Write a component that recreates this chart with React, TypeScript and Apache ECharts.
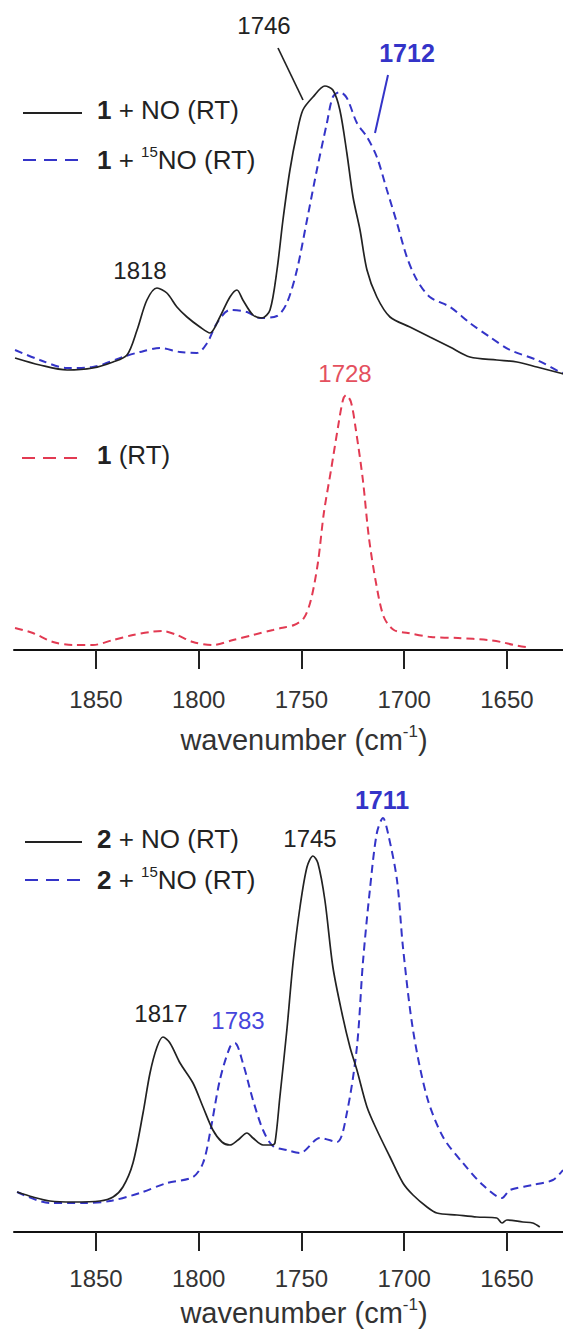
import React, { useEffect, useRef } from "react";
import * as echarts from "echarts";

// ---------- data (wavenumber in cm-1, absorbance in arbitrary units) ----------
// panel 1, upper pair: 1 + NO (RT)
const no1Wn = [1889.4, 1877.3, 1864.1, 1851.5, 1841.7, 1834.9, 1830.0, 1825.2, 1820.3, 1815.5, 1810.6, 1805.7, 1799.4, 1794.5, 1789.7, 1784.8, 1781.4, 1778.5, 1773.6, 1769.2, 1765.3, 1761.9, 1759.0, 1755.6, 1752.2, 1749.3, 1744.4, 1738.6, 1734.7, 1731.3, 1727.9, 1724.9, 1721.5, 1718.1, 1713.3, 1706.9, 1697.2, 1687.5, 1677.7, 1668.0, 1654.9, 1645.1, 1635.4, 1624.2, 1622.7];
const no1Abs = [0.22, 0.15, 0.10, 0.12, 0.18, 0.25, 0.50, 0.80, 0.92, 0.87, 0.73, 0.63, 0.53, 0.47, 0.63, 0.83, 0.90, 0.80, 0.65, 0.62, 0.70, 1.10, 1.60, 2.10, 2.47, 2.70, 2.83, 2.94, 2.90, 2.70, 2.27, 1.83, 1.50, 1.10, 0.83, 0.63, 0.53, 0.43, 0.33, 0.23, 0.20, 0.18, 0.13, 0.07, 0.06];
// panel 1, upper pair: 1 + 15NO (RT)
const n15o1Wn = [1889.4, 1877.3, 1864.1, 1851.5, 1836.9, 1828.6, 1818.9, 1809.1, 1800.9, 1795.9, 1791.1, 1784.8, 1776.5, 1770.2, 1761.9, 1757.1, 1752.2, 1747.3, 1742.5, 1737.6, 1734.7, 1731.3, 1727.9, 1723.0, 1718.1, 1713.3, 1708.4, 1703.5, 1698.7, 1693.8, 1687.5, 1677.7, 1668.0, 1658.3, 1648.5, 1635.4, 1624.2, 1622.7];
const n15o1Abs = [0.30, 0.20, 0.12, 0.13, 0.23, 0.28, 0.32, 0.28, 0.27, 0.37, 0.57, 0.70, 0.68, 0.62, 0.64, 0.77, 1.10, 1.60, 2.10, 2.57, 2.83, 2.88, 2.82, 2.57, 2.43, 2.23, 1.90, 1.57, 1.23, 1.00, 0.83, 0.73, 0.57, 0.43, 0.30, 0.20, 0.08, 0.07];
// panel 1, lower: 1 (RT)
const rt1Wn = [1889.4, 1880.7, 1870.9, 1861.2, 1851.5, 1841.7, 1832.0, 1823.7, 1817.4, 1810.6, 1802.8, 1793.1, 1783.3, 1773.6, 1763.9, 1760.0, 1753.6, 1748.8, 1745.4, 1742.0, 1739.1, 1735.6, 1732.2, 1729.8, 1728.3, 1725.9, 1723.5, 1720.1, 1717.2, 1713.7, 1709.9, 1705.0, 1698.2, 1687.0, 1673.8, 1659.2, 1652.9, 1646.6, 1640.8];
const rt1Abs = [0.22, 0.17, 0.08, 0.05, 0.05, 0.10, 0.15, 0.18, 0.19, 0.15, 0.08, 0.05, 0.10, 0.15, 0.20, 0.22, 0.25, 0.32, 0.50, 0.87, 1.37, 1.80, 2.23, 2.50, 2.55, 2.48, 2.20, 1.70, 1.13, 0.67, 0.33, 0.20, 0.17, 0.13, 0.12, 0.10, 0.08, 0.05, 0.03];
// panel 2: 2 + NO (RT)
const no2Wn = [1888.4, 1880.7, 1872.4, 1861.2, 1848.1, 1841.7, 1836.9, 1832.0, 1827.1, 1823.7, 1820.3, 1817.4, 1814.0, 1809.1, 1802.8, 1797.9, 1793.1, 1788.7, 1784.8, 1780.9, 1776.5, 1773.6, 1768.7, 1764.4, 1762.9, 1760.5, 1757.1, 1754.1, 1750.7, 1747.3, 1744.4, 1742.0, 1738.6, 1734.7, 1730.3, 1726.4, 1723.0, 1718.1, 1713.3, 1706.9, 1700.6, 1695.7, 1688.9, 1684.1, 1674.3, 1664.6, 1654.9, 1652.4, 1650.0, 1642.2, 1637.4, 1634.0];
const no2Abs = [0.40, 0.35, 0.31, 0.30, 0.31, 0.35, 0.45, 0.69, 1.19, 1.59, 1.85, 1.95, 1.89, 1.69, 1.49, 1.25, 1.02, 0.90, 0.87, 0.92, 0.99, 0.94, 0.87, 0.87, 0.89, 1.35, 2.02, 2.69, 3.25, 3.65, 3.76, 3.69, 3.32, 2.65, 2.19, 1.85, 1.62, 1.25, 1.02, 0.75, 0.49, 0.37, 0.25, 0.19, 0.17, 0.15, 0.14, 0.09, 0.12, 0.10, 0.09, 0.05];
// panel 2: 2 + 15NO (RT)
const n15o2Wn = [1888.4, 1872.4, 1856.3, 1843.2, 1828.6, 1815.5, 1802.8, 1797.9, 1794.5, 1789.7, 1784.8, 1782.4, 1778.5, 1773.6, 1768.7, 1763.9, 1757.1, 1750.7, 1741.0, 1732.7, 1727.9, 1723.0, 1720.1, 1716.7, 1713.3, 1710.3, 1707.9, 1703.5, 1700.6, 1695.7, 1688.9, 1681.1, 1671.4, 1661.7, 1652.4, 1648.5, 1637.4, 1627.6, 1622.7];
const n15o2Abs = [0.40, 0.29, 0.29, 0.31, 0.39, 0.49, 0.55, 0.69, 0.99, 1.52, 1.85, 1.89, 1.69, 1.32, 1.02, 0.86, 0.82, 0.79, 0.94, 0.90, 1.19, 1.85, 2.69, 3.42, 3.99, 4.14, 3.99, 3.52, 2.85, 2.02, 1.35, 0.95, 0.69, 0.47, 0.34, 0.42, 0.47, 0.52, 0.62];

const xTicks = [1850, 1800, 1750, 1700, 1650];
const xMin = 1622.7;
const xMax = 1889.9;

const FONT = "'Liberation Sans', Arial, Helvetica, sans-serif";
const BLACK = "#222222";
const BLUE = "#3434c8";
const RED = "#e23a52";

const zip = (xs: number[], ys: number[]) => xs.map((x, i) => [x, ys[i]]);

export default function App() {
  const ref = useRef<HTMLDivElement>(null);

  useEffect(() => {
    document.body.style.margin = "0";
    const chart = echarts.init(ref.current!, null, { renderer: "svg" });

    const xAxisBase = (gridIndex: number, show: boolean, labelMargin: number) => ({
      type: "value" as const,
      gridIndex,
      min: xMin,
      max: xMax,
      inverse: true,
      show,
      splitLine: { show: false },
      axisLine: { show: true, onZero: false, lineStyle: { color: "#111", width: 2 } },
      axisTick: {
        show: true,
        inside: false,
        length: 19,
        lineStyle: { color: "#222", width: 2 },
        customValues: xTicks,
      },
      axisLabel: {
        show: true,
        margin: labelMargin,
        fontSize: 24,
        color: "#333",
        fontFamily: FONT,
        customValues: xTicks,
        formatter: (v: number) => String(Math.round(v)),
      },
    });

    const yAxisBase = (gridIndex: number, max: number) => ({
      type: "value" as const,
      gridIndex,
      min: 0,
      max,
      show: false,
    });

    const legendText = (
      x: number,
      y: number,
      num: string,
      iso: boolean,
    ) => ({
      type: "text",
      left: x,
      top: y - 16,
      style: {
        text: iso
          ? `{b|${num}}{n| + }{s|15}{n|NO (RT)}`
          : `{b|${num}}{n| + NO (RT)}`,
        fontFamily: FONT,
        rich: {
          b: { fontSize: 26, fontWeight: "bold", fill: BLACK, fontFamily: FONT, lineHeight: 32 },
          n: { fontSize: 26, fill: BLACK, fontFamily: FONT, lineHeight: 32 },
          s: { fontSize: 15, fill: BLACK, fontFamily: FONT, lineHeight: 32, verticalAlign: "top", padding: [0, 0, 14, 0] },
        },
      },
    });

    const label = (
      text: string,
      cx: number,
      cy: number,
      color: string,
      bold = false,
      size = 24,
    ) => ({
      type: "text",
      x: cx,
      y: cy,
      style: {
        text,
        fill: color,
        fontSize: size,
        fontWeight: bold ? "bold" : "normal",
        fontFamily: FONT,
        align: "center",
        verticalAlign: "middle",
      },
    });

    const axisTitle = (cx: number, cy: number) => ({
      type: "text",
      x: cx,
      y: cy,
      style: {
        text: "{n|wavenumber (cm}{s|-1}{n|)}",
        align: "center",
        verticalAlign: "middle",
        fontFamily: FONT,
        rich: {
          n: { fontSize: 29, fill: "#333", fontFamily: FONT, lineHeight: 34 },
          s: { fontSize: 17, fill: "#333", fontFamily: FONT, lineHeight: 34, verticalAlign: "top", padding: [0, 0, 14, 0] },
        },
      },
    });

    const legendLine = (x1: number, x2: number, y: number, color: string, dashed: boolean) => ({
      type: "line",
      shape: { x1, y1: y, x2, y2: y },
      style: {
        stroke: color,
        lineWidth: 2,
        lineDash: dashed ? [13, 8] : undefined,
      },
    });

    const lineSeries = (
      name: string,
      data: number[][],
      idx: number,
      color: string,
      dashed: boolean,
    ) => ({
      name,
      type: "line",
      xAxisIndex: idx,
      yAxisIndex: idx,
      data,
      showSymbol: false,
      smooth: 0.3,
      lineStyle: {
        color,
        width: dashed ? 2 : 1.7,
        type: dashed ? [8, 5] : "solid",
      },
      z: dashed ? 3 : 4,
    });

    chart.setOption({
      animation: false,
      backgroundColor: "#ffffff",
      grid: [
        { left: 14, right: 0, top: 0, height: 380 },
        { left: 14, right: 0, top: 380, height: 270 },
        { left: 14, right: 0, top: 780, height: 452 },
      ],
      xAxis: [xAxisBase(0, false, 37), xAxisBase(1, true, 37), xAxisBase(2, true, 34)],
      yAxis: [yAxisBase(0, 3.8), yAxisBase(1, 2.7), yAxisBase(2, 4.52)],
      series: [
        lineSeries("1 + 15NO (RT)", zip(n15o1Wn, n15o1Abs), 0, BLUE, true),
        lineSeries("1 + NO (RT)", zip(no1Wn, no1Abs), 0, BLACK, false),
        lineSeries("1 (RT)", zip(rt1Wn, rt1Abs), 1, RED, true),
        lineSeries("2 + 15NO (RT)", zip(n15o2Wn, n15o2Abs), 2, BLUE, true),
        lineSeries("2 + NO (RT)", zip(no2Wn, no2Abs), 2, BLACK, false),
      ],
      graphic: [
        // legends panel 1
        legendLine(23, 82, 113, BLACK, false),
        legendText(97, 113, "1", false),
        legendLine(23, 84, 160, BLUE, true),
        legendText(97, 160, "1", true),
        legendLine(22, 85, 458, RED, true),
        {
          type: "text",
          left: 97,
          top: 458 - 16,
          style: {
            text: "{b|1}{n| (RT)}",
            rich: {
              b: { fontSize: 26, fontWeight: "bold", fill: BLACK, fontFamily: FONT, lineHeight: 32 },
              n: { fontSize: 26, fill: BLACK, fontFamily: FONT, lineHeight: 32 },
            },
          },
        },
        // legends panel 2
        legendLine(25, 82, 842, BLACK, false),
        legendText(97, 842, "2", false),
        legendLine(25, 85, 880, BLUE, true),
        legendText(97, 880, "2", true),
        // peak labels panel 1
        label("1746", 264, 25, BLACK),
        { type: "line", shape: { x1: 278, y1: 48, x2: 303, y2: 100 }, style: { stroke: BLACK, lineWidth: 1.7 } },
        label("1712", 407, 53, BLUE, true, 25),
        { type: "line", shape: { x1: 388, y1: 75, x2: 375, y2: 133 }, style: { stroke: BLUE, lineWidth: 2 } },
        label("1818", 140, 270, BLACK),
        label("1728", 345, 373, "#e4505e"),
        // peak labels panel 2
        label("1817", 161, 1013, BLACK),
        label("1783", 238, 1020, "#4646dc"),
        label("1745", 310, 838, BLACK),
        label("1711", 382, 800, BLUE, true, 25),
        // axis titles
        axisTitle(304, 740),
        axisTitle(304, 1313),
      ],
    });

    return () => chart.dispose();
  }, []);

  return <div ref={ref} style={{ width: 563, height: 1329 }} />;
}
